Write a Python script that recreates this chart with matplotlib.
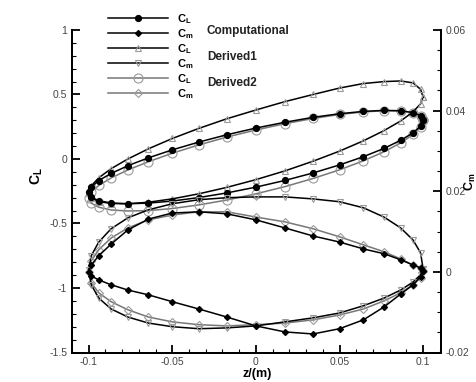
import matplotlib
matplotlib.use("Agg")
import matplotlib.pyplot as plt
from matplotlib.ticker import MultipleLocator, FuncFormatter
import numpy as np

plt.rcParams["font.family"] = ["Liberation Sans", "DejaVu Sans"]
plt.rcParams["mathtext.fontset"] = "custom"
plt.rcParams["mathtext.rm"] = "Liberation Sans"
plt.rcParams["mathtext.bf"] = "Liberation Sans:bold"
plt.rcParams["mathtext.it"] = "Liberation Sans:italic"

# plunge displacement over one cycle, 10 deg steps
z = [0.1, 0.0985, 0.094, 0.0866, 0.0766, 0.0643, 0.05, 0.0342, 0.0174, 0.0,
     -0.0174, -0.0342, -0.05, -0.0643, -0.0766, -0.0866, -0.094, -0.0985, -0.1,
     -0.0985, -0.094, -0.0866, -0.0766, -0.0643, -0.05, -0.0342, -0.0174, 0.0,
     0.0174, 0.0342, 0.05, 0.0643, 0.0766, 0.0866, 0.094, 0.0985]

# lift coefficient
cl_comp = [0.302, 0.336, 0.360, 0.374, 0.377, 0.369, 0.351, 0.323, 0.285, 0.240,
           0.188, 0.131, 0.071, 0.009, -0.052, -0.112, -0.167, -0.216, -0.258,
           -0.296, -0.323, -0.341, -0.347, -0.342, -0.326, -0.299, -0.263, -0.218,
           -0.166, -0.108, -0.046, 0.018, 0.082, 0.145, 0.203, 0.256]
cl_der1 = [0.480, 0.540, 0.590, 0.605, 0.600, 0.585, 0.550, 0.500, 0.445, 0.380,
           0.312, 0.237, 0.159, 0.079, 0.000, -0.075, -0.146, -0.208, -0.260,
           -0.300, -0.330, -0.345, -0.347, -0.335, -0.309, -0.270, -0.220, -0.160,
           -0.092, -0.017, 0.061, 0.141, 0.220, 0.295, 0.366, 0.428]
cl_der2 = [0.300, 0.335, 0.359, 0.372, 0.374, 0.365, 0.345, 0.314, 0.274, 0.225,
           0.170, 0.109, 0.045, -0.021, -0.085, -0.147, -0.205, -0.256, -0.300,
           -0.342, -0.374, -0.395, -0.403, -0.400, -0.384, -0.356, -0.318, -0.270,
           -0.214, -0.151, -0.084, -0.014, 0.056, 0.125, 0.190, 0.249]

# pitching moment coefficient
cm_comp = [0.0002, 0.0010, 0.0017, 0.0030, 0.0045, 0.0057, 0.0074, 0.0089, 0.0109, 0.0129,
           0.0144, 0.0149, 0.0146, 0.0131, 0.0104, 0.0069, 0.0040, 0.0017, 0.0,
           -0.0010, -0.0020, -0.0032, -0.0045, -0.0057, -0.0074, -0.0092, -0.0112, -0.0134,
           -0.0149, -0.0154, -0.0141, -0.0119, -0.0087, -0.0055, -0.0032, -0.0012]
cm_der1 = [0.0007, 0.0047, 0.0079, 0.0109, 0.0136, 0.0159, 0.0174, 0.0181, 0.0186, 0.0186,
           0.0184, 0.0179, 0.0169, 0.0154, 0.0134, 0.0107, 0.0074, 0.0040, 0.0005,
           -0.0032, -0.0065, -0.0092, -0.0112, -0.0127, -0.0136, -0.0141, -0.0139, -0.0134,
           -0.0124, -0.0114, -0.0102, -0.0084, -0.0065, -0.0045, -0.0025, -0.0007]
cm_der2 = [0.0002, 0.0010, 0.0017, 0.0032, 0.0050, 0.0067, 0.0087, 0.0107, 0.0124, 0.0136,
           0.0149, 0.0149, 0.0141, 0.0129, 0.0109, 0.0084, 0.0055, 0.0027, 0.0,
           -0.0027, -0.0052, -0.0074, -0.0094, -0.0112, -0.0124, -0.0131, -0.0134, -0.0131,
           -0.0127, -0.0119, -0.0107, -0.0092, -0.0072, -0.0052, -0.0032, -0.0015]

group_names = ["Computational", "Derived1", "Derived2"]

GRAY = "#9a9a9a"
LGRAY = "#777777"

styles = {
    "cl_comp": dict(color="black", marker="o", ms=4.2, mfc="black", mec="black"),
    "cm_comp": dict(color="black", marker="D", ms=3.0, mfc="black", mec="black"),
    "cl_der1": dict(color="black", marker="^", ms=4.5, mfc="none", mec=GRAY, mew=0.8),
    "cm_der1": dict(color="black", marker="v", ms=4.5, mfc="none", mec=GRAY, mew=0.8),
    "cl_der2": dict(color=LGRAY, marker="o", ms=6.5, mfc="none", mec=GRAY, mew=0.8),
    "cm_der2": dict(color=LGRAY, marker="D", ms=4.5, mfc="none", mec=GRAY, mew=0.8),
}


def closed(a):
    return np.append(np.asarray(a, dtype=float), a[0])


fig = plt.figure(figsize=(4.77, 3.82), dpi=100)
ax = fig.add_axes([72 / 477, 1 - 352.5 / 382, (441 - 72) / 477, (352.5 - 30) / 382])
ax2 = ax.twinx()

zc = closed(z)
h = {}
for key, data, axis in [("cl_der2", cl_der2, ax), ("cl_der1", cl_der1, ax), ("cl_comp", cl_comp, ax),
                        ("cm_der2", cm_der2, ax2), ("cm_der1", cm_der1, ax2), ("cm_comp", cm_comp, ax2)]:
    h[key], = axis.plot(zc, closed(data), lw=1.1, **styles[key])

ax.set_xlim(-0.11, 0.1107)
ax.set_ylim(-1.5, 1.0)
ax2.set_ylim(-0.02, 0.06)

fmt = FuncFormatter(lambda v, p: "%g" % round(v, 4) if abs(v) > 1e-9 else "0")
ax.xaxis.set_major_locator(MultipleLocator(0.05))
ax.xaxis.set_minor_locator(MultipleLocator(0.01))
ax.yaxis.set_major_locator(MultipleLocator(0.5))
ax.yaxis.set_minor_locator(MultipleLocator(0.1))
ax2.yaxis.set_major_locator(MultipleLocator(0.02))
ax2.yaxis.set_minor_locator(MultipleLocator(0.005))
for a in (ax.xaxis, ax.yaxis, ax2.yaxis):
    a.set_major_formatter(fmt)

for a in (ax, ax2):
    a.spines["top"].set_visible(False)
    for s in a.spines.values():
        s.set_linewidth(1.4)
    a.tick_params(which="major", direction="in", length=6, width=1.3, labelsize=7.5, labelcolor="#444")
    a.tick_params(which="minor", direction="in", length=3, width=0.8)
ax.tick_params(axis="y", which="both", right=False)
ax.tick_params(axis="x", which="both", top=False, pad=3)
ax2.tick_params(axis="y", which="both", left=False, pad=3)

fig.text(37 / 477, 1 - 176 / 382, r"$\mathbf{C}_{\mathbf{L}}$", rotation=90, fontsize=10,
         ha="center", va="center")
fig.text(470 / 477, 1 - 182 / 382, r"$\mathbf{C}_{\mathbf{m}}$", rotation=90, fontsize=9,
         ha="center", va="center")
fig.text(257 / 477, 1 - 374 / 382, "z/(m)", fontsize=9, fontweight="bold", ha="center", va="center")

# legend: one row per series, group name to the right of each CL/Cm pair
order = ["cl_comp", "cm_comp", "cl_der1", "cm_der1", "cl_der2", "cm_der2"]
labels = [r"$\mathbf{C}_{\mathbf{L}}$", r"$\mathbf{C}_{\mathbf{m}}$"] * 3
leg = ax2.legend([h[k] for k in order], labels, loc="upper left",
                 bbox_to_anchor=(108 / 477, 1 - 12 / 382), bbox_transform=fig.transFigure,
                 frameon=False, fontsize=8, handlelength=5.4, handletextpad=0.8,
                 labelspacing=0.11, markerscale=1.0, borderaxespad=0, borderpad=0)
for i, name in enumerate(group_names):
    fig.text(207 / 477, 1 - (31 + 26 * i) / 382, name, fontsize=8.5, fontweight="bold",
             ha="left", va="center", color="#222")

fig.savefig("out.png", dpi=100)
